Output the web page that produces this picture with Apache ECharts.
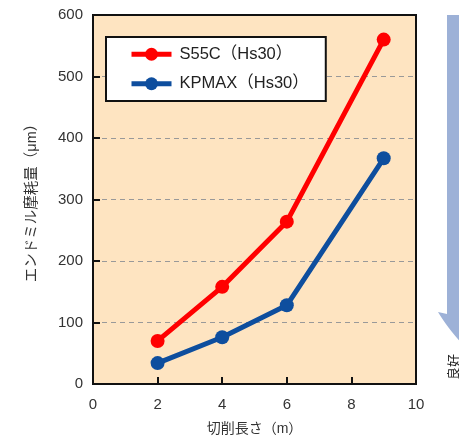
<!DOCTYPE html>
<html><head><meta charset="utf-8">
<script src="https://cdn.jsdelivr.net/npm/echarts@6/dist/echarts.min.js"></script>
<style>html,body{margin:0;padding:0;background:#fff}#c{width:459px;height:442px}</style>
</head><body><div id="c"></div>
<script>
const xValues = [2, 4, 6, 9];
const s55c = [70, 158, 264, 560];
const kpmax = [34, 76, 128, 367];
const seriesNames = ['S55C（Hs30）', 'KPMAX（Hs30）'];
const xName = '切削長さ（m）';
const yName = 'エンドミル摩耗量（μm）';
const FONT = '"Liberation Sans", "Noto Sans CJK JP", sans-serif';

// arrow outline (quadratic curve sampled for arrowhead edge)
function arrowPoints() {
  const pts = [[447, 15], [470, 15], [470, 352]];
  const p0 = [470, 352], c = [450, 332], p1 = [438, 312];
  for (let i = 1; i <= 10; i++) {
    const t = i / 10, u = 1 - t;
    pts.push([u * u * p0[0] + 2 * u * t * c[0] + t * t * p1[0], u * u * p0[1] + 2 * u * t * c[1] + t * t * p1[1]]);
  }
  pts.push([447, 314]);
  return pts;
}

const chart = echarts.init(document.getElementById('c'), null, {renderer: 'canvas'});
chart.setOption({
  animation: false,
  textStyle: {fontFamily: FONT},
  grid: {left: 93, right: 43, top: 15, bottom: 58, show: true, backgroundColor: '#FEE4C1', borderColor: '#111', borderWidth: 2, z: 0},
  legend: {
    orient: 'vertical', left: 106, top: 37,
    backgroundColor: '#fff', borderColor: '#111', borderWidth: 2,
    padding: [9, 17, 9, 23], itemGap: 13, itemWidth: 40, itemHeight: 16,
    lineStyle: {width: 5},
    textStyle: {fontSize: 16.5, color: '#222', fontFamily: FONT, padding: [0, 0, 0, 3]},
    data: seriesNames
  },
  xAxis: {
    type: 'value', min: 0, max: 10, interval: 2,
    name: xName, nameLocation: 'middle', nameGap: 38,
    nameTextStyle: {fontSize: 14, color: '#333', fontFamily: FONT},
    axisLine: {show: true, lineStyle: {color: '#111', width: 2}},
    axisTick: {show: true, inside: true, length: 7, lineStyle: {color: '#111', width: 2}},
    axisLabel: {fontSize: 15, color: '#333', margin: 13},
    splitLine: {show: false}
  },
  yAxis: {
    type: 'value', min: 0, max: 600, interval: 100,
    name: yName, nameLocation: 'middle', nameGap: 54,
    nameTextStyle: {fontSize: 14.5, color: '#333', fontFamily: FONT},
    axisLine: {show: true, lineStyle: {color: '#111', width: 2}},
    axisTick: {show: true, inside: true, length: 7, lineStyle: {color: '#111', width: 2}},
    axisLabel: {fontSize: 15, color: '#333', margin: 10},
    splitLine: {show: true, showMaxLine: false, showMinLine: false, lineStyle: {color: '#999', type: [5, 4], width: 1}}
  },
  series: [
    {name: seriesNames[0], type: 'line', data: xValues.map((x, i) => [x, s55c[i]]),
     symbol: 'circle', symbolSize: 14, itemStyle: {color: '#FF0000'}, lineStyle: {color: '#FF0000', width: 5}, z: 3},
    {name: seriesNames[1], type: 'line', data: xValues.map((x, i) => [x, kpmax[i]]),
     symbol: 'circle', symbolSize: 14, itemStyle: {color: '#0E4E9E'}, lineStyle: {color: '#0E4E9E', width: 5}, z: 3}
  ],
  graphic: [
    {type: 'polygon', shape: {points: arrowPoints()}, style: {fill: '#9DB1D7'}},
    {type: 'text', x: 453, y: 367, rotation: Math.PI / 2,
     style: {text: '良好', fontSize: 13, fill: '#222', align: 'center', verticalAlign: 'middle', fontFamily: '"Noto Sans CJK JP", sans-serif'}}
  ]
});
</script></body></html>
